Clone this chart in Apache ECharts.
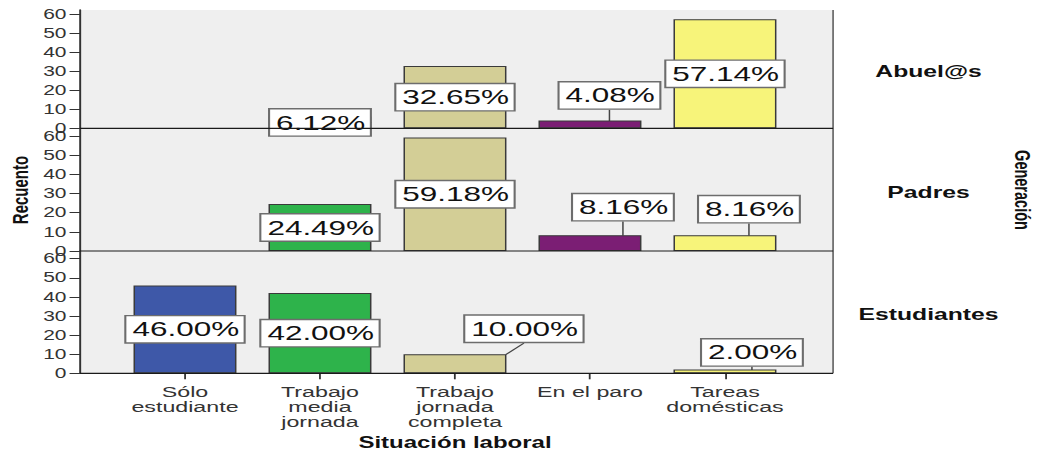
<!DOCTYPE html>
<html>
<head>
<meta charset="utf-8">
<script src="https://cdn.jsdelivr.net/npm/echarts@6.0.0/dist/echarts.min.js"></script>
<style>
  html, body { margin: 0; padding: 0; background: #fff; overflow: hidden; }
  /* the source picture is stretched sideways, so draw narrow and widen with css */
  #chart { width: 698px; height: 452px; transform: scaleX(1.4986); transform-origin: 0 0; }
</style>
</head>
<body>
<div id="chart"></div>
<script>
const categories = ['Sólo\nestudiante', 'Trabajo\nmedia\njornada', 'Trabajo\njornada\ncompleta', 'En el paro', 'Tareas\ndomésticas'];
const generations = ['Abuel@s', 'Padres', 'Estudiantes'];
const abuelos = [null, 6.12, 32.65, 4.08, 57.14];
const padres = [null, 24.49, 59.18, 8.16, 8.16];
const estudiantes = [46.00, 42.00, 10.00, null, 2.00];
const yTicks = [0, 10, 20, 30, 40, 50, 60];

const barColors = ['#3E58A8', '#2EB34B', '#D3CE96', '#7B1E74', '#F7F47A'];
const font = '"Liberation Sans", Arial, sans-serif';

// layout (unscaled px)
const plotLeft = 53.4, plotRight = 555.9, catLeft = 78.4, catRight = 528.8, W = 698;
const panels = [
  {top: 10, height: 118.3, max: 62, labelY: 71},
  {top: 128.3, height: 122.7, max: 64, labelY: 192.5},
  {top: 251, height: 122.3, max: 64, labelY: 314}
];
const plotBottom = panels[2].top + panels[2].height;
// labels of short bars are pulled out with a leader line: [dx, dy]
const pulled = [
  {3: [13, -29]},
  {3: [22, -36], 4: [16, -34]},
  {2: [46, -35], 4: [18, -19]}
];

const seriesData = [abuelos, padres, estudiantes];
const chart = echarts.init(document.getElementById('chart'), null, {renderer: 'svg'});

const centered = {align: 'center', verticalAlign: 'middle', textAlign: 'center', textVerticalAlign: 'middle'};
const graphic = [
  {type: 'rect', silent: true, z: -10,
   shape: {x: plotLeft, y: panels[0].top, width: plotRight - plotLeft, height: plotBottom - panels[0].top},
   style: {fill: '#EFEFEF'}},
  {type: 'line', silent: true, z: 100,
   shape: {x1: plotRight, y1: panels[0].top, x2: plotRight, y2: plotBottom},
   style: {stroke: '#555', lineWidth: 1}}
];
panels.forEach((p, i) => {
  const yb = p.top + p.height;
  graphic.push({type: 'line', silent: true, z: 100,
    shape: {x1: plotLeft, y1: yb, x2: plotRight, y2: yb},
    style: {stroke: '#1a1a1a', lineWidth: 1.2}});
  graphic.push({type: 'text', silent: true, x: 619.6, y: p.labelY,
    style: Object.assign({text: generations[i], font: 'bold 16.5px ' + font, fill: '#111'}, centered)});
});
graphic.push(
  {type: 'text', silent: true, x: 13.3, y: 190, rotation: Math.PI / 2,
   style: Object.assign({text: 'Recuento', font: 'bold 15px ' + font, fill: '#111'}, centered)},
  {type: 'text', silent: true, x: 682.3, y: 190, rotation: -Math.PI / 2,
   style: Object.assign({text: 'Generación', font: 'bold 14.5px ' + font, fill: '#111'}, centered)},
  {type: 'text', silent: true, x: 303.6, y: 443,
   style: Object.assign({text: 'Situación laboral', font: 'bold 16px ' + font, fill: '#111'}, centered)}
);

const option = {
  animation: false,
  backgroundColor: '#fff',
  grid: panels.map(p => ({
    left: catLeft, right: W - catRight, top: p.top, height: p.height,
    outerBoundsMode: 'none', containLabel: false
  })),
  xAxis: panels.map((p, i) => ({
    type: 'category', gridIndex: i, data: categories, boundaryGap: true,
    axisLine: {show: false},
    axisTick: {show: i === 2, alignWithLabel: true, length: 6, lineStyle: {color: '#333', width: 1.2}},
    axisLabel: {show: i === 2, interval: 0, margin: 11, fontFamily: font, fontSize: 15.5,
                lineHeight: 15, color: '#333'},
    splitLine: {show: false}
  })),
  yAxis: panels.map((p, i) => ({
    type: 'value', gridIndex: i, min: 0, max: p.max, offset: catLeft - plotLeft,
    axisLine: {show: true, lineStyle: {color: '#333', width: 1.3}},
    axisTick: {show: true, length: 7, customValues: yTicks, lineStyle: {color: '#333'}},
    axisLabel: {margin: 9, customValues: yTicks, fontFamily: font, fontSize: 14, color: '#333'},
    splitLine: {show: false}
  })),
  graphic: graphic,
  series: seriesData.map((vals, i) => ({
    type: 'bar', xAxisIndex: i, yAxisIndex: i, data: vals, barWidth: 68.7,
    itemStyle: {color: p => barColors[p.dataIndex], borderColor: '#3a3a3a', borderWidth: 1},
    label: {
      show: true, position: 'inside',
      formatter: p => p.value.toFixed(2) + '%',
      fontFamily: font, fontSize: 21, color: '#111',
      backgroundColor: '#fff', borderColor: '#6d6d6d', borderWidth: 1.4, padding: [3, 3, 2, 4]
    },
    labelLine: {show: true, lineStyle: {color: '#444', width: 1}},
    labelLayout: p => {
      const o = pulled[i][p.dataIndex];
      return o ? {dx: o[0], dy: o[1]} : {};
    },
    emphasis: {disabled: true}
  }))
};
chart.setOption(option);
</script>
</body>
</html>
